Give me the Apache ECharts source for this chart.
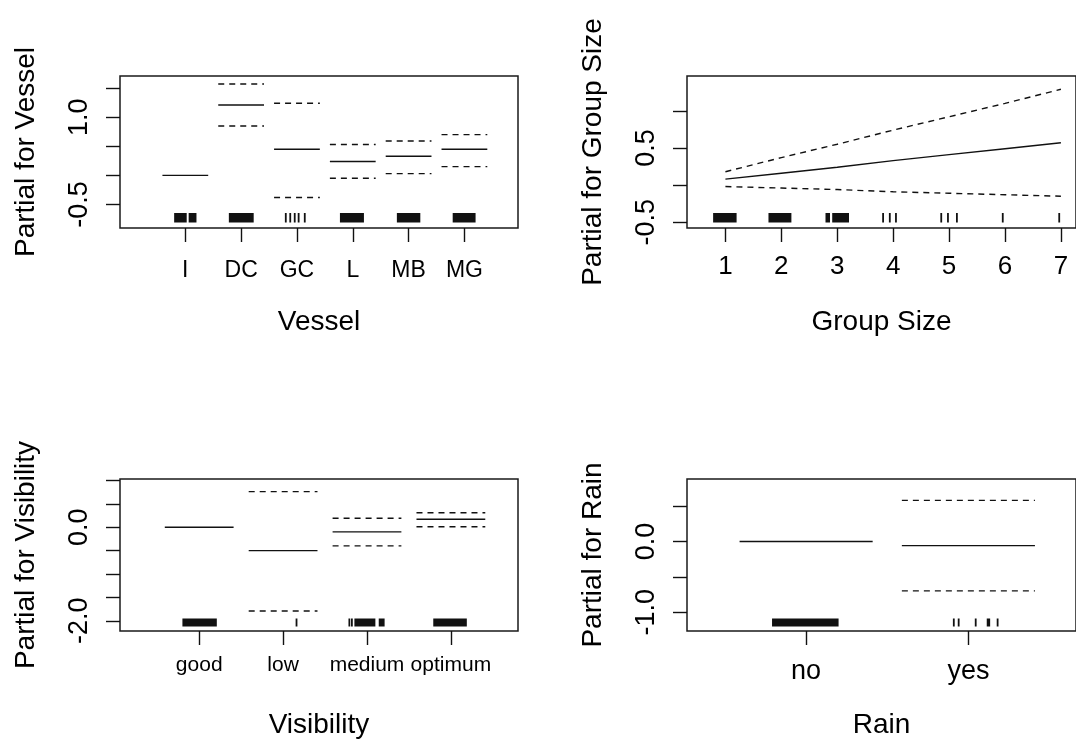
<!DOCTYPE html>
<html><head><meta charset="utf-8">
<script src="https://cdn.jsdelivr.net/npm/echarts@6/dist/echarts.min.js"></script>
<style>html,body{margin:0;padding:0;background:#fff}#c{width:1076px;height:740px}</style>
</head><body><div id="c"></div>
<script>
// ---- Data ----
const vesselCats = ['I', 'DC', 'GC', 'L', 'MB', 'MG'];
const vesselFit = [0, 1.21, 0.45, 0.24, 0.33, 0.45];
const vesselUpper = [null, 1.57, 1.24, 0.53, 0.59, 0.70];
const vesselLower = [null, 0.85, -0.38, -0.05, 0.03, 0.15];
const vesselRug = [[0.80, 1.025], [1.06, 1.20], [1.78, 2.225], [2.80, 2.80], [2.88, 2.88], [2.96, 2.96], [3.03, 3.03], [3.14, 3.14], [3.77, 4.20], [4.79, 5.21], [5.79, 6.20]];
const vesselYTicks = [-0.5, 0, 0.5, 1, 1.5];
const vesselYLabels = [-0.5, 1.0];

const groupX = [1, 2, 3, 4, 5, 6, 7];
const groupFit = [0.08, 0.16, 0.24, 0.33, 0.41, 0.49, 0.57];
const groupUpper = [0.18, 0.37, 0.55, 0.74, 0.92, 1.10, 1.29];
const groupLower = [-0.02, -0.04, -0.06, -0.09, -0.11, -0.13, -0.15];
const groupRug = [[0.78, 1.20], [1.77, 2.18], [2.79, 2.87], [2.91, 3.21], [3.82, 3.82], [3.94, 3.94], [4.05, 4.05], [4.86, 4.86], [4.98, 4.98], [5.14, 5.14], [5.96, 5.96], [6.97, 6.97]];
const groupYTicks = [-0.5, 0, 0.5, 1];
const groupYLabels = [-0.5, 0.5];

const visCats = ['good', 'low', 'medium', 'optimum'];
const visFit = [0, -0.50, -0.10, 0.17];
const visUpper = [null, 0.76, 0.19, 0.31];
const visLower = [null, -1.79, -0.40, 0.01];
const visRug = [[0.80, 1.21], [2.16, 2.16], [2.79, 2.79], [2.82, 2.82], [2.85, 3.10], [3.14, 3.21], [3.79, 4.19]];
const visYTicks = [-2, -1.5, -1, -0.5, 0, 0.5, 1];
const visYLabels = [-2.0, 0.0];

const rainCats = ['no', 'yes'];
const rainFit = [0, -0.06];
const rainUpper = [null, 0.58];
const rainLower = [null, -0.70];
const rainRug = [[0.79, 1.20], [1.91, 1.91], [1.94, 1.94], [2.045, 2.045], [2.113, 2.134], [2.18, 2.18]];
const rainYTicks = [-1, -0.5, 0, 0.5];
const rainYLabels = [-1.0, 0.0];

// ---- Helpers ----
const FONT = "'Liberation Sans', Arial, sans-serif";
const INK = '#111';
const HALF = 0.41;

function pairs(vals) {
  const out = [];
  vals.forEach((v, i) => { if (v !== null) out.push([i + 1, v]); });
  return out;
}
function segRender(dashed) {
  return function (params, api) {
    const x = api.value(0), y = api.value(1);
    const p1 = api.coord([x - HALF, y]), p2 = api.coord([x + HALF, y]);
    return {
      type: 'line',
      shape: { x1: p1[0], y1: p1[1], x2: p2[0], y2: p2[1] },
      style: { stroke: INK, lineWidth: 1.4, lineDash: dashed ? [6, 5] : null }
    };
  };
}
function rugRender(gap, h) {
  return function (params, api) {
    const cs = params.coordSys;
    const a = api.coord([api.value(0), 0])[0];
    const b = api.coord([api.value(1), 0])[0];
    const w = Math.max(b - a, 1.8);
    const bottom = cs.y + cs.height;
    return {
      type: 'rect',
      shape: { x: (a + b) / 2 - w / 2, y: bottom - gap - h, width: w, height: h },
      style: { fill: INK }
    };
  };
}
function xAxisDef(idx, min, max, ticks, fmt, fontSize, margin, name) {
  return {
    type: 'value', gridIndex: idx, min: min, max: max, position: 'bottom',
    axisLine: { show: false, onZero: false }, splitLine: { show: false },
    axisTick: { show: true, inside: false, length: 14, customValues: ticks, lineStyle: { color: INK, width: 1.4 } },
    axisLabel: { customValues: ticks, formatter: fmt, fontSize: fontSize, margin: margin, color: '#000', fontFamily: FONT },
    name: name, nameLocation: 'middle', nameGap: 80,
    nameTextStyle: { fontSize: 28, color: '#000', fontFamily: FONT }
  };
}
function yAxisDef(idx, min, max, ticks, labels, name) {
  return {
    type: 'value', gridIndex: idx, min: min, max: max, position: 'left',
    axisLine: { show: false, onZero: false }, splitLine: { show: false },
    axisTick: { show: true, inside: false, length: 14, customValues: ticks, lineStyle: { color: INK, width: 1.4 } },
    axisLabel: { customValues: labels, rotate: 90, fontSize: 27, margin: 27, color: '#000', fontFamily: FONT,
      formatter: v => Number(v).toFixed(1) },
    name: name, nameLocation: 'middle', nameGap: 80,
    nameTextStyle: { fontSize: 28, color: '#000', fontFamily: FONT }
  };
}
function catFmt(cats) { return v => cats[Math.round(v) - 1] || ''; }

const grids = [
  { left: 120, top: 76, width: 398, height: 152 },
  { left: 687, top: 76, width: 398, height: 152 },
  { left: 120, top: 479, width: 398, height: 152 },
  { left: 687, top: 479, width: 398, height: 152 }
].map(g => Object.assign(g, { show: true, borderColor: '#1a1a1a', borderWidth: 1.5, backgroundColor: 'transparent', containLabel: false }));

const xAxes = [
  xAxisDef(0, -0.17, 6.96, vesselCats.map((c, i) => i + 1), catFmt(vesselCats), 23, 31, 'Vessel'),
  xAxisDef(1, 0.313, 7.27, groupX, v => String(v), 26, 26, 'Group Size'),
  xAxisDef(2, 0.056, 4.80, visCats.map((c, i) => i + 1), catFmt(visCats), 21, 24, 'Visibility'),
  xAxisDef(3, 0.266, 2.663, rainCats.map((c, i) => i + 1), catFmt(rainCats), 27, 27, 'Rain')
];
const yAxes = [
  yAxisDef(0, -0.904, 1.708, vesselYTicks, vesselYLabels, 'Partial for Vessel'),
  yAxisDef(1, -0.578, 1.469, groupYTicks, groupYLabels, 'Partial for Group Size'),
  yAxisDef(2, -2.219, 1.03, visYTicks, visYLabels, 'Partial for Visibility'),
  yAxisDef(3, -1.267, 0.883, rainYTicks, rainYLabels, 'Partial for Rain')
];

function factorSeries(idx, fit, upper, lower, rug, gap, h) {
  return [
    { type: 'custom', xAxisIndex: idx, yAxisIndex: idx, renderItem: segRender(false), data: pairs(fit), clip: false, silent: true },
    { type: 'custom', xAxisIndex: idx, yAxisIndex: idx, renderItem: segRender(true), data: pairs(upper), clip: false, silent: true },
    { type: 'custom', xAxisIndex: idx, yAxisIndex: idx, renderItem: segRender(true), data: pairs(lower), clip: false, silent: true },
    { type: 'custom', xAxisIndex: idx, yAxisIndex: idx, renderItem: rugRender(gap, h), data: rug, clip: false, silent: true }
  ];
}
function lineSeries(idx, xs, ys, dashed) {
  return {
    type: 'line', xAxisIndex: idx, yAxisIndex: idx, data: xs.map((x, i) => [x, ys[i]]),
    symbol: 'none', silent: true,
    lineStyle: { color: INK, width: 1.4, type: dashed ? [6, 5] : 'solid' }
  };
}

const series = [].concat(
  factorSeries(0, vesselFit, vesselUpper, vesselLower, vesselRug, 5.5, 9.5),
  [lineSeries(1, groupX, groupFit, false), lineSeries(1, groupX, groupUpper, true), lineSeries(1, groupX, groupLower, true),
   { type: 'custom', xAxisIndex: 1, yAxisIndex: 1, renderItem: rugRender(5.5, 9.5), data: groupRug, clip: false, silent: true }],
  factorSeries(2, visFit, visUpper, visLower, visRug, 4.5, 8),
  factorSeries(3, rainFit, rainUpper, rainLower, rainRug, 4.5, 8)
);

const chart = echarts.init(document.getElementById('c'), null, { renderer: 'canvas' });
chart.setOption({
  animation: false,
  backgroundColor: '#fff',
  textStyle: { fontFamily: FONT },
  grid: grids,
  xAxis: xAxes,
  yAxis: yAxes,
  series: series
});
</script>
</body></html>
